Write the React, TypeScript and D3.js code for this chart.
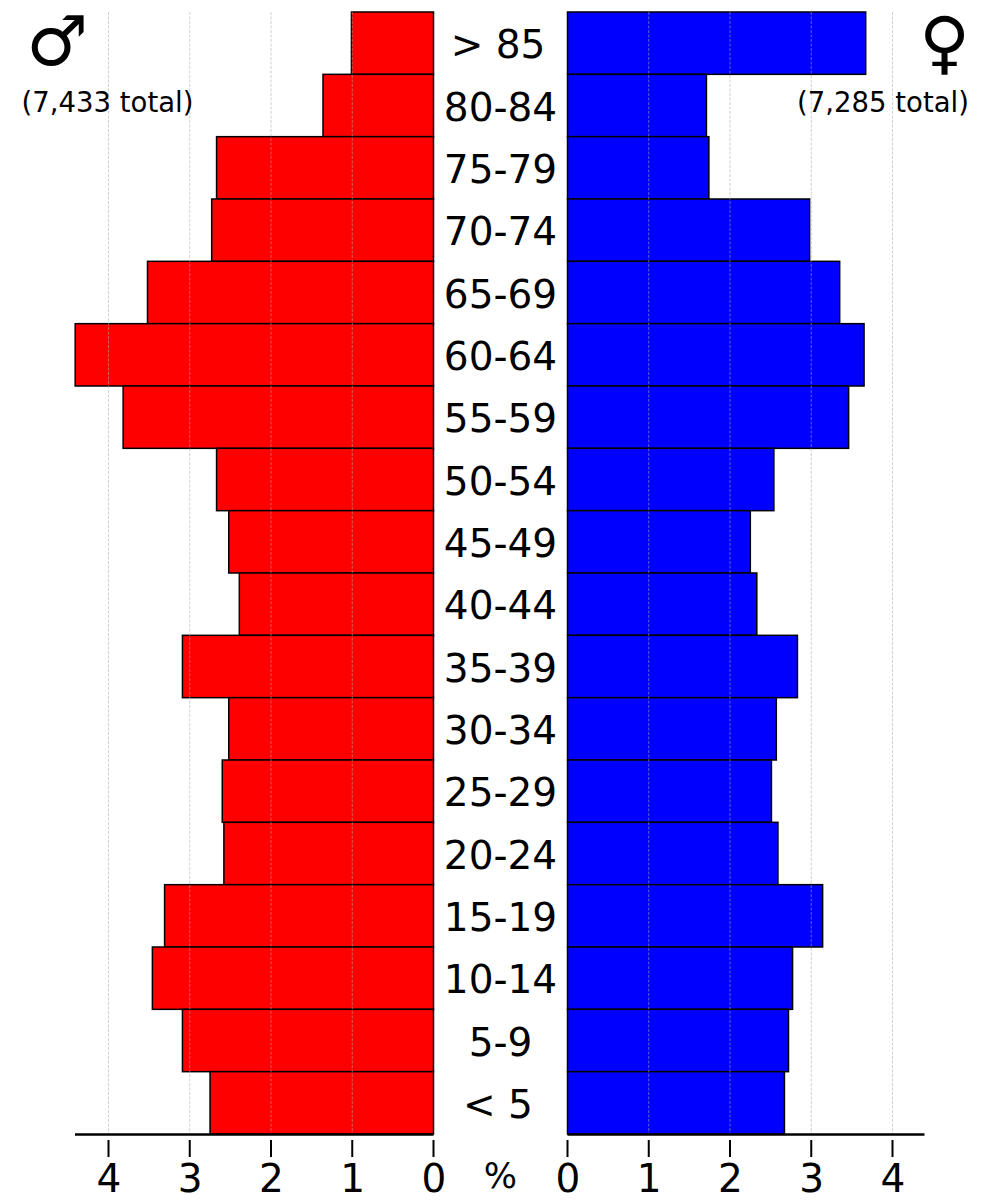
import React from "react";
import * as d3 from "d3";

const ageGroups = ["> 85","80-84","75-79","70-74","65-69","60-64","55-59","50-54","45-49","40-44","35-39","30-34","25-29","20-24","15-19","10-14","5-9","< 5"];
const malePct = [1.01,1.36,2.67,2.73,3.52,4.41,3.82,2.67,2.52,2.39,3.09,2.52,2.6,2.58,3.31,3.46,3.09,2.75];
const femalePct = [3.67,1.71,1.74,2.98,3.35,3.65,3.46,2.54,2.25,2.33,2.83,2.57,2.51,2.59,3.14,2.77,2.72,2.67];
const ticks = [0,1,2,3,4];
const FONT = "'DejaVu Sans', sans-serif";

export default function App() {
  const top = 12, axisY = 1134;
  const xL = d3.scaleLinear().domain([0,1]).range([433.5,352.25]);
  const xR = d3.scaleLinear().domain([0,1]).range([567.5,648.75]);
  const y = d3.scaleBand<string>().domain(ageGroups).range([top,axisY]);
  const band = y.bandwidth();
  const bars = (vals:number[], x:d3.ScaleLinear<number,number>, fill:string) => vals.map((v,i)=>{
    const a = x(0), b = x(v);
    return <rect key={fill+i} x={Math.min(a,b)} y={y(ageGroups[i])} width={Math.abs(b-a)} height={band} fill={fill} stroke="#000" strokeWidth={1.5}/>;
  });
  const grid = (x:d3.ScaleLinear<number,number>) => ticks.filter(t=>t>0).map(t=>(
    <line key={t} x1={x(t)} x2={x(t)} y1={top} y2={axisY} stroke="#aaa" strokeOpacity={0.8} strokeWidth={0.7} strokeDasharray="3 1.5"/>
  ));
  const axis = (x:d3.ScaleLinear<number,number>, x1:number, x2:number) => (
    <g>
      <line x1={x1} x2={x2} y1={axisY+0.5} y2={axisY+0.5} stroke="#000" strokeWidth={2.4}/>
      {ticks.map(t=>(
        <g key={t}>
          <line x1={x(t)} x2={x(t)} y1={1140} y2={1157} stroke="#000" strokeWidth={2}/>
          <text x={x(t)+0.5} y={1192} textAnchor="middle" fontSize={39} fill="#000">{t}</text>
        </g>
      ))}
    </g>
  );
  return (
    <svg width={1000} height={1200} viewBox="0 0 1000 1200" style={{position:"absolute",left:0,top:0,display:"block"}} fontFamily={FONT}>
      <rect width={1000} height={1200} fill="#fff"/>
      {bars(malePct,xL,"#ff0000")}
      {bars(femalePct,xR,"#0000ff")}
      {grid(xL)}
      {grid(xR)}
      {axis(xL,75,433.5)}
      {axis(xR,567.5,924.5)}
      {ageGroups.map(g=>(
        <text key={g} x={g.includes(" ") ? 498 : 500.5} y={y(g)!+band/2+15} textAnchor="middle" fontSize={39} fill="#000">{g}</text>
      ))}
      <text x={500.5} y={1187.5} textAnchor="middle" fontSize={35} fill="#000">%</text>
      <text x={107.5} y={111.5} textAnchor="middle" fontSize={27.5} fill="#000">(7,433 total)</text>
      <text x={883} y={111.5} textAnchor="middle" fontSize={27.5} fill="#000">(7,285 total)</text>
      <text x={57.5} y={64.5} textAnchor="middle" fontSize={69} fill="#000">♂</text>
      <text x={944.5} y={65.5} textAnchor="middle" fontSize={69} fill="#000">♀</text>
    </svg>
  );
}
